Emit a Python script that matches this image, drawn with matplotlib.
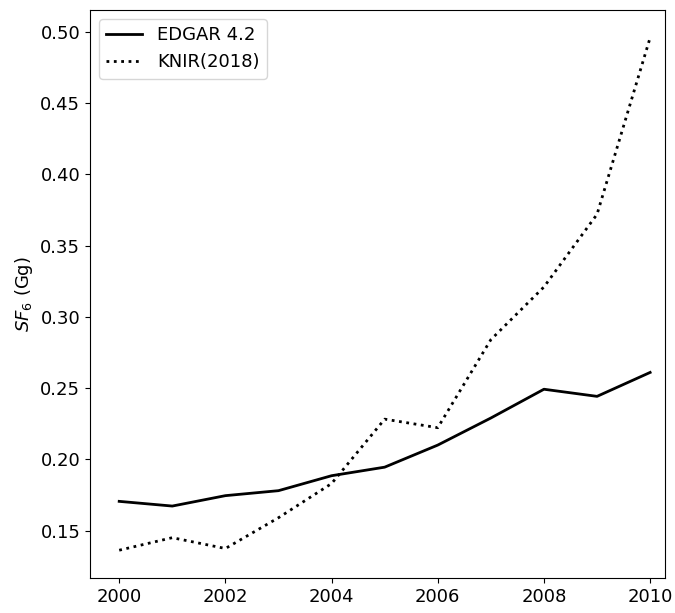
import matplotlib
matplotlib.use("Agg")
import matplotlib.pyplot as plt

years = [2000, 2001, 2002, 2003, 2004, 2005, 2006, 2007, 2008, 2009, 2010]
edgar = [0.1705, 0.1672, 0.1745, 0.178, 0.1885, 0.1945, 0.210, 0.229, 0.2492, 0.2442, 0.2610]
knir = [0.1362, 0.1450, 0.1374, 0.1590, 0.1830, 0.2282, 0.2222, 0.2840, 0.3210, 0.3720, 0.4960]
yticks = [0.15, 0.20, 0.25, 0.30, 0.35, 0.40, 0.45, 0.50]

fig = plt.figure(figsize=(6.75, 6.13), dpi=100)
ax = fig.add_axes([90/675, 1 - 578/613, 575/675, 568/613])
ax.plot(years, edgar, color='black', linestyle='-', linewidth=2, label='EDGAR 4.2')
ax.plot(years, knir, color='black', linestyle=':', linewidth=2, label='KNIR(2018)')
ax.set_yticks(yticks)
ax.set_yticklabels([f"{v:.2f}" for v in yticks])
ax.set_xticks([2000, 2002, 2004, 2006, 2008, 2010])
ax.tick_params(labelsize=13)
ax.set_xlim(1999.45, 2010.28)
ax.set_ylim(0.1167, 0.5154)
ax.set_ylabel(r'$SF_6$ (Gg)', fontsize=13)
ax.legend(loc='upper left', fontsize=13)
fig.savefig('out.png', dpi=100)
